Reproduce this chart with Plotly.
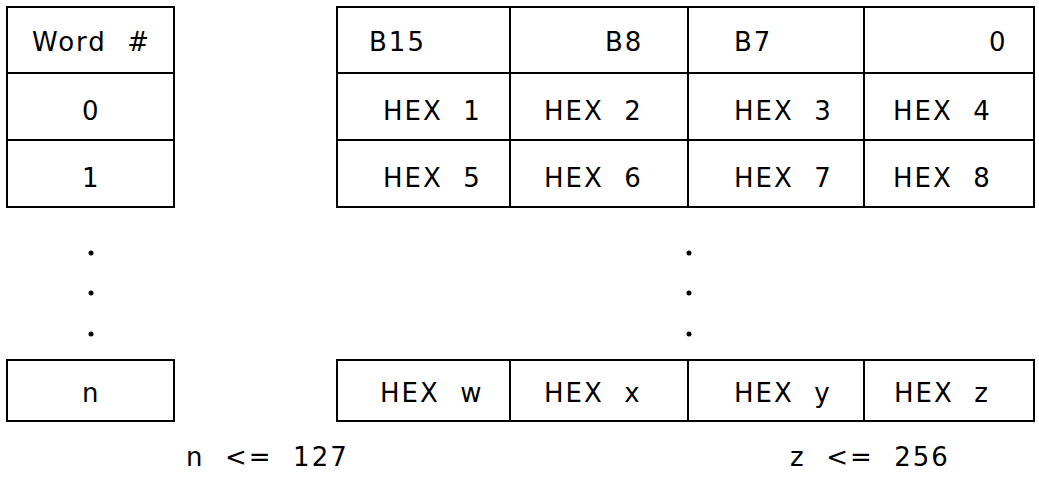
import plotly.graph_objects as go

# ---- content (data) ----
word_labels = ["Word  #", "0", "1", "n"]
bit_labels = ["B15", "B8", "B7", "0"]
hex_rows = [
    ["HEX  1", "HEX  2", "HEX  3", "HEX  4"],
    ["HEX  5", "HEX  6", "HEX  7", "HEX  8"],
    ["HEX  w", "HEX  x", "HEX  y", "HEX  z"],
]
limit_labels = ["n  <=  127", "z  <=  256"]
ellipsis_count = 3

# ---- layout geometry ----
W, H = 1039, 478
LEFT = (7, 174)
COLS = [337, 510, 688, 864, 1034]
ROWS = [7, 73, 140, 207]
BOTTOM = (360, 421)
text_y_top = [42, 111, 178]
text_y_bottom = 393
hex_cx = [432, 593, 783, 942]
bit_pos = [(367, "left"), (645, "right"), (732, "left"), (1010, "right")]
left_cx = 91
limit_pos = [(267, 457), (870, 457)]
dot_x = [91, 689]
dot_y = [253, 293, 334]

FONT = dict(family="DejaVu Sans, Liberation Sans, Arial, sans-serif", size=26, color="black")
LW = 2


def styled(t):
    return '<span style="letter-spacing:2px">' + t + '</span>'


fig = go.Figure()
shapes = []
annotations = []


def rect(x0, x1, y0, y1):
    shapes.append(dict(type="rect", x0=x0, x1=x1, y0=y0, y1=y1,
                       xref="x", yref="y", line=dict(color="black", width=LW),
                       fillcolor="rgba(0,0,0,0)"))


# left column boxes
for i in range(3):
    rect(LEFT[0], LEFT[1], ROWS[i], ROWS[i + 1])
rect(LEFT[0], LEFT[1], BOTTOM[0], BOTTOM[1])

# right table boxes
for i in range(3):
    for j in range(4):
        rect(COLS[j], COLS[j + 1], ROWS[i], ROWS[i + 1])
for j in range(4):
    rect(COLS[j], COLS[j + 1], BOTTOM[0], BOTTOM[1])


def ann(text, x, y, xanchor="center"):
    annotations.append(dict(text=styled(text), x=x, y=y, xref="x", yref="y",
                            xanchor=xanchor, yanchor="middle", showarrow=False,
                            font=FONT))


# left labels
ys = text_y_top + [text_y_bottom]
for lbl, y in zip(word_labels, ys):
    ann(lbl, left_cx, y)

# bit header
for lbl, (x, anc) in zip(bit_labels, bit_pos):
    ann(lbl, x, text_y_top[0], anc)

# hex rows
hex_ys = [text_y_top[1], text_y_top[2], text_y_bottom]
for row, y in zip(hex_rows, hex_ys):
    for lbl, x in zip(row, hex_cx):
        ann(lbl, x, y)

# limits
for lbl, (x, y) in zip(limit_labels, limit_pos):
    ann(lbl, x, y)

# ellipsis dots
xs, yy = [], []
for x in dot_x:
    for y in dot_y[:ellipsis_count]:
        xs.append(x)
        yy.append(y)
fig.add_trace(go.Scatter(x=xs, y=yy, mode="markers",
                         marker=dict(color="black", size=5),
                         hoverinfo="skip", showlegend=False))

fig.update_layout(
    width=W, height=H,
    margin=dict(l=0, r=0, t=0, b=0),
    paper_bgcolor="white", plot_bgcolor="white",
    xaxis=dict(range=[0, W], visible=False, fixedrange=True),
    yaxis=dict(range=[H, 0], visible=False, fixedrange=True),
    shapes=shapes, annotations=annotations, showlegend=False,
)

fig.write_html("out.html", config={"displayModeBar": False},
               post_script="document.body.style.margin='0';document.body.style.overflow='hidden';")
